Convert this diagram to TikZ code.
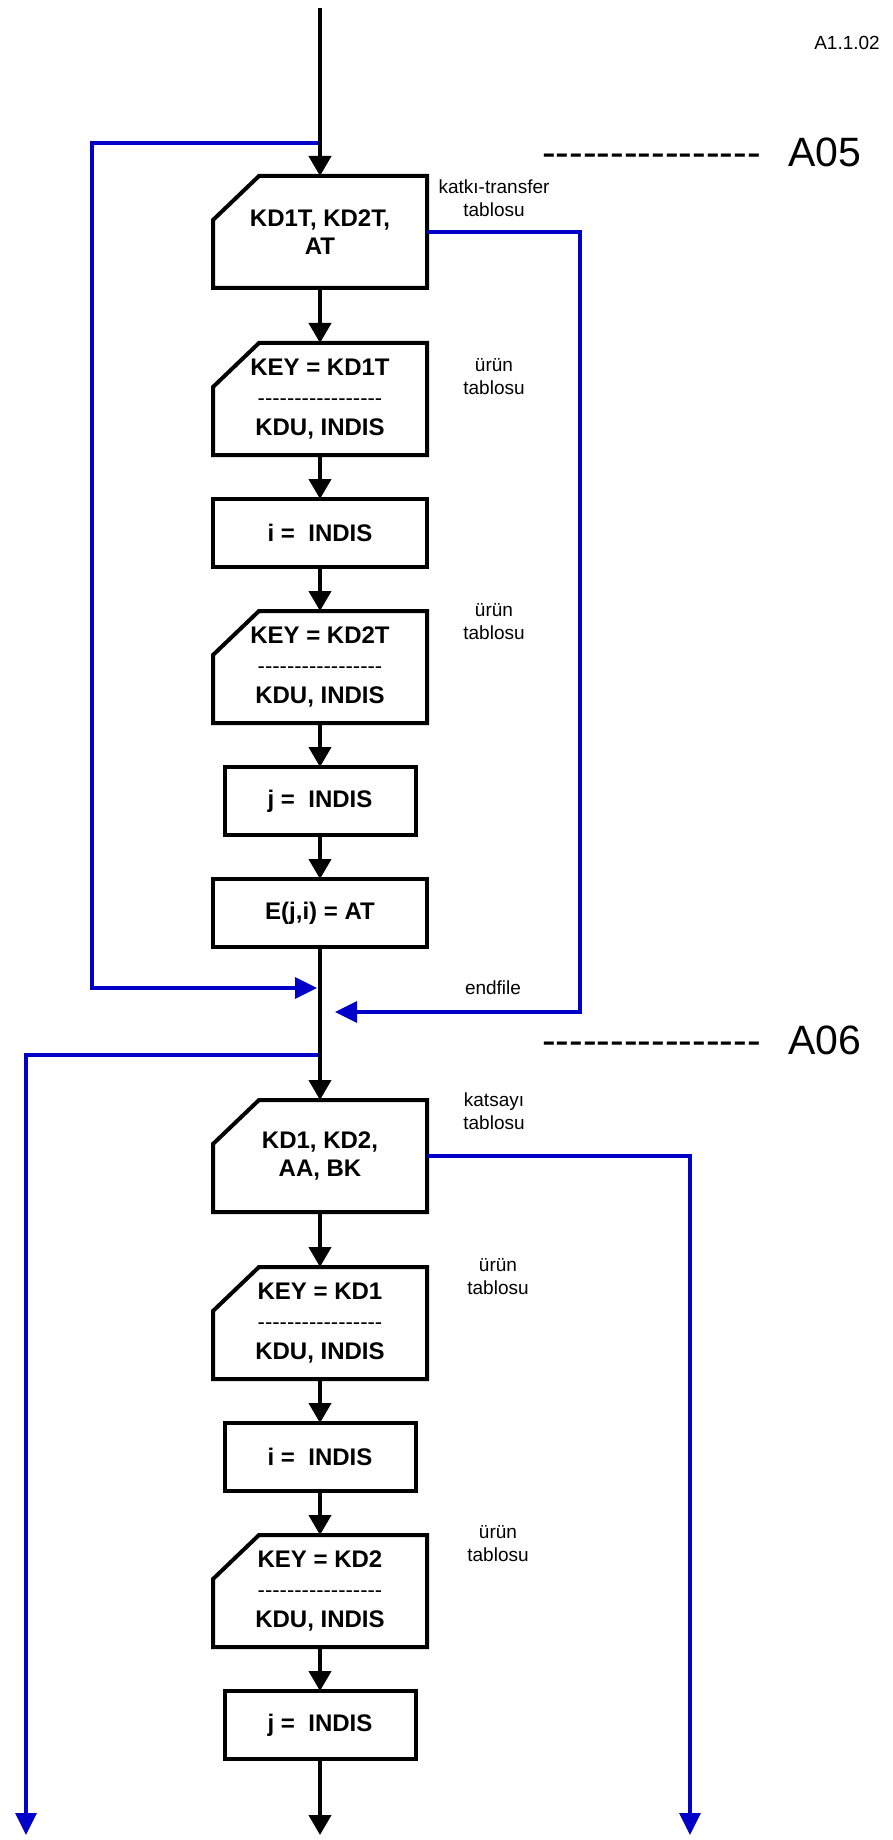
\documentclass[tikz,border=0pt]{standalone}
\usepackage{fontspec}
\setmainfont{Liberation Sans}[Ligatures=TeXOff]
\usetikzlibrary{arrows.meta,positioning,calc}
\definecolor{linkblue}{RGB}{0,0,200}
\newcommand\keyrows[1]{KEY = #1\\{\mdseries\fontsize{11}{15}\selectfont -----------------}\\KDU, INDIS}

\begin{document}
\begin{tikzpicture}[
 node distance=22pt,
 io/.style={rectangle, minimum width=107pt, minimum height=56pt, inner sep=0pt, outer sep=0pt, align=center, font=\bfseries\fontsize{12}{14}\selectfont},
 lookup/.style={io, font=\bfseries\fontsize{12}{15}\selectfont},
 proc/.style={rectangle, draw, line width=2pt, minimum width=107pt, minimum height=34pt, inner sep=0pt, outer sep=0pt, font=\bfseries\fontsize{12}{14}\selectfont},
 slim/.style={proc, minimum width=95.5pt},
 frame/.style={line width=2pt, line join=miter},
 flow/.style={-{Triangle[length=10pt,width=11pt]}, line width=2pt},
 link/.style={linkblue, line width=1.7pt},
 linkarrow/.style={link, -{Triangle[length=11pt,width=10.5pt]}},
 note/.style={font=\fontsize{9.5}{11.5}\selectfont, align=center, inner sep=0pt},
 tag/.style={font=\fontsize{20.5}{24}\selectfont, anchor=base east, inner sep=0pt}
]
\useasboundingbox (0,0) rectangle (446.5pt,-920pt);

% Block A05
\node[io] (b1) at (160pt,-116pt) {KD1T, KD2T,\\AT};
\node[lookup, below=27.5pt of b1] (b2) {\keyrows{KD1T}};
\node[proc, below=of b2] (b3) {i =\ \ INDIS};
\node[lookup, below=of b3] (b4) {\keyrows{KD2T}};
\node[slim, below=of b4] (b5) {j =\ \ INDIS};
\node[proc, below=of b5] (b6) {E(j,i) = AT};

% Block A06
\node[io, below=76.5pt of b6] (b7) {KD1, KD2,\\AA, BK};
\node[lookup, below=27.5pt of b7] (b8) {\keyrows{KD1}};
\node[slim, below=of b8] (b9) {i =\ \ INDIS};
\node[lookup, below=of b9] (b10) {\keyrows{KD2}};
\node[slim, below=of b10] (b11) {j =\ \ INDIS};

% Card outlines for the read steps
\foreach \n in {b1,b2,b4,b7,b8,b10}
 \draw[frame] ($(\n.north west)+(23pt,0)$) -- (\n.north east) -- (\n.south east)
  -- (\n.south west) -- ($(\n.north west)+(0,-22pt)$) -- cycle;

% Ends of the flow lines
\coordinate (start) at (160pt,-4pt);
\coordinate (j1) at (160pt,-71.5pt);
\coordinate (m1) at (158.5pt,-494pt);
\coordinate (m2) at (167.5pt,-506pt);
\coordinate (j2) at (160pt,-527.5pt);
\coordinate (out1) at (13pt,-917.5pt);
\coordinate (out2) at (345pt,-917.5pt);
\coordinate (out3) at (160pt,-917.5pt);

% Table notes
\node[note] at ($(b1.north east)+(33.5pt,-11pt)$) {katkı-transfer\\tablosu};
\node[note] at ($(b2.north east)+(33.5pt,-17pt)$) {ürün\\tablosu};
\node[note] at ($(b4.north east)+(33.5pt,-5.5pt)$) {ürün\\tablosu};
\node[note] at (246.5pt,-494pt) {endfile};
\node[note] at ($(b7.north east)+(33.5pt,-5.5pt)$) {katsayı\\tablosu};
\node[note] at ($(b8.north east)+(35.5pt,-4.75pt)$) {ürün\\tablosu};
\node[note] at ($(b10.north east)+(35.5pt,-4.25pt)$) {ürün\\tablosu};

% Page and block tags
\node[note] (page) at (423.5pt,-21.5pt) {A1.1.02};
\node[tag] (a05) at (431pt,-83.5pt) {----------------\hspace{14pt}A05};
\node[tag] (a06) at (431pt,-527pt) {----------------\hspace{14pt}A06};

% Blue branches
\draw[linkarrow] (j1) -- ++(-114pt,0) |- (m1);
\draw[linkarrow] (b1.east) -- ++(76.5pt,0) |- (m2);
\draw[linkarrow] (j2) -| (out1);
\draw[linkarrow] (b7.east) -| (out2);

% Main flow
\draw[flow] (start) -- (b1);
\draw[flow] (b1) -- (b2);
\draw[flow] (b2) -- (b3);
\draw[flow] (b3) -- (b4);
\draw[flow] (b4) -- (b5);
\draw[flow] (b5) -- (b6);
\draw[flow] (b6) -- (b7);
\draw[flow] (b7) -- (b8);
\draw[flow] (b8) -- (b9);
\draw[flow] (b9) -- (b10);
\draw[flow] (b10) -- (b11);
\draw[flow] (b11) -- (out3);

\end{tikzpicture}
\end{document}
